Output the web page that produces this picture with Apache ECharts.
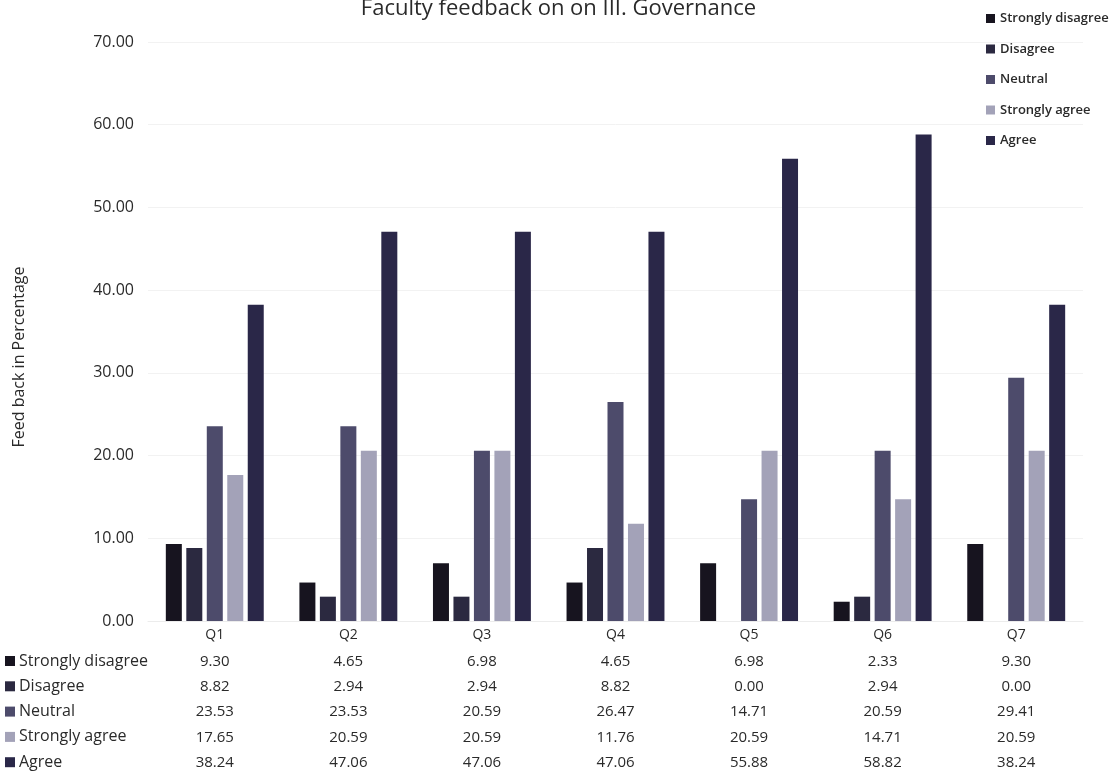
<!DOCTYPE html>
<html><head><meta charset="utf-8">
<script src="https://cdn.jsdelivr.net/npm/echarts@6/dist/echarts.min.js"></script>
<style>html,body{margin:0;padding:0;background:#fff}#c{width:1117px;height:784px}</style>
</head><body><div id="c"></div>
<script>
const categories = ['Q1','Q2','Q3','Q4','Q5','Q6','Q7'];
const seriesNames = ['Strongly disagree','Disagree','Neutral','Strongly agree','Agree'];
const stronglyDisagree = [9.30, 4.65, 6.98, 4.65, 6.98, 2.33, 9.30];
const disagree = [8.82, 2.94, 2.94, 8.82, 0.00, 2.94, 0.00];
const neutral = [23.53, 23.53, 20.59, 26.47, 14.71, 20.59, 29.41];
const stronglyAgree = [17.65, 20.59, 20.59, 11.76, 20.59, 14.71, 20.59];
const agree = [38.24, 47.06, 47.06, 47.06, 55.88, 58.82, 38.24];
const yTicks = [0, 10, 20, 30, 40, 50, 60, 70];
const titleText = 'Faculty feedback on on III. Governance';
const yTitle = 'Feed back in Percentage';

const values = [stronglyDisagree, disagree, neutral, stronglyAgree, agree];
const colors = ['#17141f', '#2b2940', '#4d4b6b', '#a3a2b8', '#2a2748'];
const FONT = 'Open Sans';
const textColor = '#2a2a2a';

const gridBottomY = 621;
const rowCenters = [661, 686.3, 711.6, 736.9, 762.2];

const xAxes = [{
  type: 'category', data: categories, gridIndex: 0,
  axisLine: {show: true, lineStyle: {color: '#ececec'}}, axisTick: {show: false},
  axisLabel: {color: textColor, fontFamily: FONT, fontSize: 14, margin: 7},
  splitLine: {show: false}
}];
values.forEach((arr, i) => {
  xAxes.push({
    type: 'category', data: categories, gridIndex: 0, position: 'bottom',
    offset: rowCenters[i] - gridBottomY - 7,
    axisLine: {show: false}, axisTick: {show: false}, splitLine: {show: false},
    axisLabel: {color: textColor, fontFamily: FONT, fontSize: 15, margin: 0,
      formatter: (v, idx) => arr[idx].toFixed(2)}
  });
});

const graphics = [];
seriesNames.forEach((n, i) => {
  graphics.push({type: 'rect', left: 5, top: rowCenters[i] - 5, shape: {width: 10, height: 10}, style: {fill: colors[i]}});
  graphics.push({type: 'text', x: 19, y: rowCenters[i], style: {text: n, fill: textColor, font: '16px "' + FONT + '"', align: 'left', verticalAlign: 'middle'}});
});
graphics.push({
  type: 'text', x: 19, y: 357, rotation: Math.PI / 2,
  style: {text: yTitle, fill: textColor, font: '16px "' + FONT + '"', align: 'center', verticalAlign: 'middle'}
});

const chart = echarts.init(document.getElementById('c'));
chart.setOption({
  animation: false,
  backgroundColor: '#fff',
  title: {text: titleText, left: 'center', top: -7, textStyle: {fontFamily: FONT, fontWeight: 'normal', fontSize: 22, color: textColor}},
  legend: {
    data: seriesNames, orient: 'vertical', left: 981, top: 7,
    itemWidth: 9, itemHeight: 9, itemGap: 17.5, icon: 'rect',
    textStyle: {fontFamily: FONT, fontSize: 13, fontWeight: 600, color: textColor}
  },
  grid: {left: 148, right: 34, top: 42, bottom: 784 - gridBottomY},
  xAxis: xAxes,
  yAxis: {
    type: 'value', min: yTicks[0], max: yTicks[yTicks.length - 1], interval: 10,
    axisLine: {show: false}, axisTick: {show: false},
    axisLabel: {color: textColor, fontFamily: FONT, fontSize: 16, margin: 14, formatter: v => v.toFixed(2)},
    splitLine: {show: true, lineStyle: {color: '#f2f2f2'}}
  },
  graphic: graphics,
  series: seriesNames.map((n, i) => ({
    name: n, type: 'bar', data: values[i], xAxisIndex: 0,
    barWidth: 16, barGap: '28%',
    itemStyle: {color: colors[i]}
  }))
});
</script></body></html>
